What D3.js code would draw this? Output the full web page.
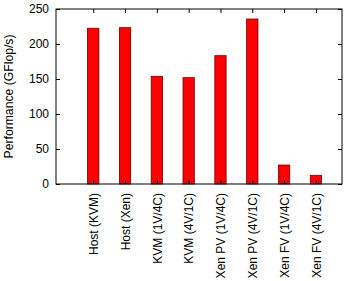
<!DOCTYPE html>
<html><head><meta charset="utf-8">
<script src="https://cdn.jsdelivr.net/npm/d3@7"></script>
<style>body{margin:0;background:#fff}svg{display:block}text{font-family:"Liberation Sans",Arial,sans-serif}</style>
</head><body>
<script>
const categories = ["Host (KVM)","Host (Xen)","KVM (1V/4C)","KVM (4V/1C)","Xen PV (1V/4C)","Xen PV (4V/1C)","Xen FV (1V/4C)","Xen FV (4V/1C)"];
const values = [222.5, 223.3, 153.8, 151.9, 183.3, 235.7, 27.1, 12.4];
const yTicks = [0, 50, 100, 150, 200, 250];

const W = 346, H = 281;
const L = 56, R = 342, T = 9, B = 184;
const svg = d3.select("body").append("svg").attr("width", W).attr("height", H);
const x = d3.scaleLinear().domain([-1.17, 7.82]).range([L, R]);
const y = d3.scaleLinear().domain([0, 250]).range([B, T]);
const bw = 11.3;

svg.append("g").selectAll("rect").data(values).join("rect")
  .attr("x", (d, i) => x(i) - bw / 2)
  .attr("y", d => y(d))
  .attr("width", bw)
  .attr("height", d => B - y(d))
  .attr("fill", "#ff0000")
  .attr("stroke", "#6b0000")
  .attr("stroke-width", 0.8);

const yl = svg.append("g").attr("transform", `translate(${L},0)`)
  .call(d3.axisLeft(y).tickValues(yTicks).tickSize(-4).tickPadding(7));
yl.select(".domain").remove();
yl.selectAll("text").attr("font-size", 12).attr("fill", "#000");
const yr = svg.append("g").attr("transform", `translate(${R},0)`)
  .call(d3.axisRight(y).tickValues(yTicks).tickSize(-4).tickFormat(""));
yr.select(".domain").remove();
const xt = svg.append("g").attr("transform", `translate(0,${T})`)
  .call(d3.axisTop(x).tickValues(d3.range(categories.length)).tickSize(-4).tickFormat(""));
xt.select(".domain").remove();
const xb = svg.append("g").attr("transform", `translate(0,${B})`)
  .call(d3.axisBottom(x).tickValues(d3.range(categories.length)).tickSize(-4).tickFormat(i => categories[i]));
xb.select(".domain").remove();
xb.selectAll("text").attr("font-size", 12).attr("fill", "#000")
  .attr("transform", "rotate(-90)").attr("text-anchor", "end")
  .attr("x", -9).attr("y", 0).attr("dy", "0.35em");

svg.selectAll(".tick line").attr("stroke", "#000");

svg.append("rect").attr("x", L).attr("y", T).attr("width", R - L).attr("height", B - T)
  .attr("fill", "none").attr("stroke", "#000").attr("stroke-width", 1);

svg.append("text").attr("transform", `translate(12.5,${(T + B) / 2}) rotate(-90)`)
  .attr("text-anchor", "middle").attr("font-size", 12.2).text("Performance (GFlop/s)");
</script>
</body></html>
